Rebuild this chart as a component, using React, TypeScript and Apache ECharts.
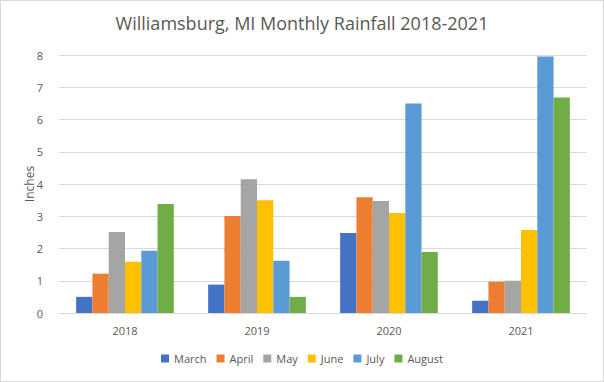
import React, { useEffect, useRef } from "react";
import * as echarts from "echarts";

const years = ["2018", "2019", "2020", "2021"];
const months = ["March", "April", "May", "June", "July", "August"];
const colors = ["#4472C4", "#ED7D31", "#A5A5A5", "#FFC000", "#5B9BD5", "#70AD47"];
const march = [0.5, 0.88, 2.48, 0.38];
const april = [1.22, 3.01, 3.59, 0.97];
const may = [2.51, 4.15, 3.47, 1.0];
const june = [1.59, 3.5, 3.1, 2.57];
const july = [1.93, 1.62, 6.5, 7.95];
const august = [3.38, 0.5, 1.89, 6.68];
const seriesData = [march, april, may, june, july, august];

const FONT = "'Open Sans', 'Noto Sans', sans-serif";

export default function App() {
  const ref = useRef<HTMLDivElement>(null);
  useEffect(() => {
    const chart = echarts.init(ref.current!, undefined, { renderer: "svg" });
    chart.setOption({
      animation: false,
      backgroundColor: "#ffffff",
      title: {
        text: "Williamsburg, MI Monthly Rainfall 2018-2021",
        left: "center",
        top: 8,
        textStyle: { fontFamily: FONT, fontSize: 18, fontWeight: "normal", color: "#595959" },
      },
      legend: {
        bottom: 12,
        left: "center",
        itemWidth: 8,
        itemHeight: 8,
        itemGap: 10,
        icon: "rect",
        textStyle: { fontFamily: FONT, fontSize: 11, color: "#595959" },
        data: months,
      },
      grid: { left: 58, right: 16, top: 54, bottom: 68 },
      xAxis: {
        type: "category",
        data: years,
        axisLine: { lineStyle: { color: "#d9d9d9" } },
        axisTick: { show: false },
        axisLabel: { fontFamily: FONT, fontSize: 11, color: "#595959", margin: 12 },
      },
      yAxis: {
        type: "value",
        min: 0,
        max: 8,
        interval: 1,
        name: "Inches",
        nameLocation: "middle",
        nameGap: 24,
        nameRotate: 90,
        nameMoveOverlap: false,
        nameTextStyle: { fontFamily: FONT, fontSize: 12, color: "#595959" },
        axisLabel: { fontFamily: FONT, fontSize: 11, color: "#595959", margin: 16 },
        splitLine: { lineStyle: { color: "#d9d9d9" } },
      },
      series: months.map((m, i) => ({
        name: m,
        type: "bar",
        data: seriesData[i],
        itemStyle: { color: colors[i] },
        barGap: "0%",
        barCategoryGap: "26%",
      })),
    });
    return () => chart.dispose();
  }, []);
  return (
    <div
      style={{
        position: "fixed",
        left: 0,
        top: 0,
        width: 604,
        height: 382,
        boxSizing: "border-box",
        border: "1px solid #d9d9d9",
        background: "#fff",
      }}
    >
      <div ref={ref} style={{ width: 602, height: 380 }} />
    </div>
  );
}
